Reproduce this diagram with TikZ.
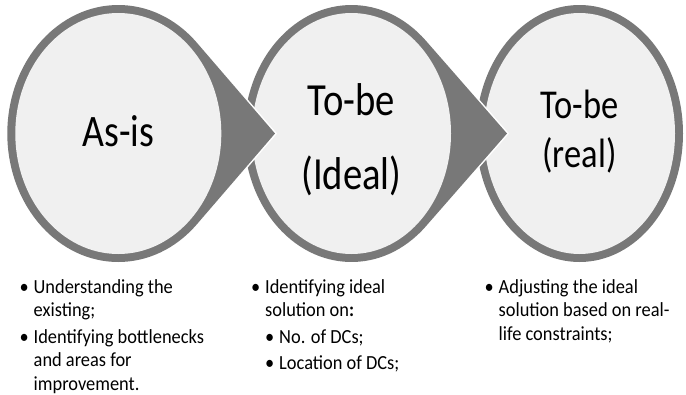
\documentclass[tikz,border=0pt]{standalone}
\usepackage{fontspec}
\setmainfont{Carlito}
\newfontfamily\stagefont[FakeStretch=0.84]{Carlito}
\newfontfamily\notefont[FakeStretch=0.92]{Carlito}
\usetikzlibrary{shapes.geometric,calc}
\definecolor{ringgray}{RGB}{120,120,120}
\definecolor{stagefill}{RGB}{240,240,240}
\newcommand\bulletmark{\makebox[14pt][l]{\textbullet}}
\newcommand\hangspace{\hspace*{14pt}}

\begin{document}
\begin{tikzpicture}
  [x=1pt,y=-1pt,
   drop/.style={fill=ringgray,preaction={draw=white,line width=3pt}},
   stage/.style={ellipse,fill=stagefill,inner sep=0pt},
   notes/.style={anchor=base west,inner sep=0pt,font=\notefont\fontsize{20}{23.5}\selectfont}]
  \useasboundingbox (0,0) rectangle (686,394);
  \coordinate (c1) at (118.3,133.5);
  \coordinate (c2) at (351.5,133.5);
  \coordinate (c3) at (579.5,133.5);
  \coordinate (t1) at (275,133.5);
  \coordinate (t2) at (507,133.5);

  \fill[ringgray] (c3) ellipse [x radius=103.5,y radius=128.5];
  \node[stage,minimum width=191,minimum height=241,font=\stagefont\fontsize{41}{49}\selectfont] (s3) at (c3)
    {\begin{tabular}{@{}c@{}}To-be\\(real)\end{tabular}};

  \path[drop] ($(c2)+(-46.3:107.5 and 128.5)$) -- (t2) -- ($(c2)+(46.3:107.5 and 128.5)$)
    arc[start angle=46.3,end angle=313.7,x radius=107.5,y radius=128.5] -- cycle;
  \node[stage,minimum width=199,minimum height=241,font=\stagefont\fontsize{46}{74}\selectfont] (s2) at (c2)
    {\raisebox{-3.7pt}[\height][\depth]{\begin{tabular}{@{}c@{}}To-be\\(Ideal)\end{tabular}}};

  \path[drop] ($(c1)+(-45:111 and 128.5)$) -- (t1) -- ($(c1)+(45:111 and 128.5)$)
    arc[start angle=45,end angle=315,x radius=111,y radius=128.5] -- cycle;
  \node[stage,minimum width=206,minimum height=241,font=\stagefont\fontsize{45}{62.5}\selectfont] (s1) at (c1)
    {\begin{tabular}{@{}c@{}}As-is\end{tabular}};

  \node[notes] (b1) at (19.5,293) {\begin{tabular}[t]{@{}l@{}}
    \bulletmark Understanding the\\
    \hangspace existing;\\[3pt]
    \bulletmark Identifying bottlenecks\\
    \hangspace and areas for\\
    \hangspace improvement.
  \end{tabular}};
  \node[notes] (b2) at (251,293) {\begin{tabular}[t]{@{}l@{}}
    \bulletmark Identifying ideal\\
    \hangspace solution on\textbf{:}\\[3pt]
    \hangspace\bulletmark No. of DCs;\\[3pt]
    \hangspace\bulletmark Location of DCs;
  \end{tabular}};
  \node[notes] (b3) at (484.5,293) {\begin{tabular}[t]{@{}l@{}}
    \bulletmark Adjusting the ideal\\
    \hangspace solution based on real-\\
    \hangspace life constraints;
  \end{tabular}};
\end{tikzpicture}
\end{document}
